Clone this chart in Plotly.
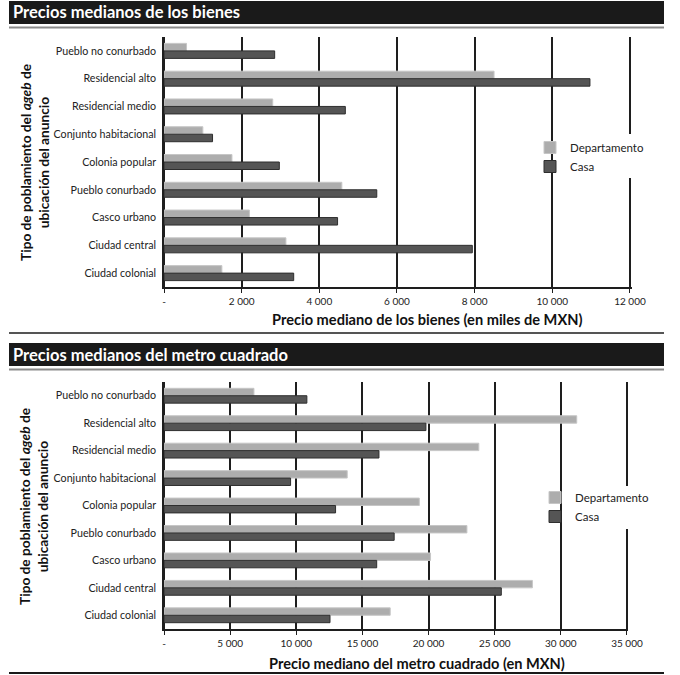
import plotly.graph_objects as go

categories = ["Pueblo no conurbado", "Residencial alto", "Residencial medio",
              "Conjunto habitacional", "Colonia popular", "Pueblo conurbado",
              "Casco urbano", "Ciudad central", "Ciudad colonial"]
series_names = ["Departamento", "Casa"]

bienes_departamento = [580, 8500, 2800, 1000, 1750, 4580, 2200, 3140, 1490]
bienes_casa = [2850, 10970, 4670, 1250, 2970, 5480, 4470, 7940, 3340]

m2_departamento = [6800, 31200, 23800, 13850, 19300, 22900, 20150, 27850, 17100]
m2_casa = [10800, 19800, 16250, 9570, 12970, 17400, 16080, 25500, 12550]

bienes_tickvals = [0, 2000, 4000, 6000, 8000, 10000, 12000]
bienes_ticktext = ["-", "2 000", "4 000", "6 000", "8 000", "10 000", "12 000"]
m2_tickvals = [0, 5000, 10000, 15000, 20000, 25000, 30000, 35000]
m2_ticktext = ["-", "5 000", "10 000", "15 000", "20 000", "25 000", "30 000", "35 000"]

title_top = "Precios medianos de los bienes"
title_bottom = "Precios medianos del metro cuadrado"
xtitle_top = "Precio mediano de los bienes (en miles de MXN)"
xtitle_bottom = "Precio mediano del metro cuadrado (en MXN)"
ytitle = "Tipo de poblamiento del <i>ageb</i> de<br>ubicación del anuncio"

W, H = 680, 675
FONT = "Lato, 'Open Sans', sans-serif"
DEP_COLOR, DEP_LINE = "#adadad", "#c6c6c6"
CASA_COLOR, CASA_LINE = "#555555", "#2e2e2e"


def px(x):
    return x / W


def py(y):
    return 1 - y / H


fig = go.Figure()
fig.add_trace(go.Bar(name=series_names[0], y=categories, x=bienes_departamento, orientation="h",
                     marker=dict(color=DEP_COLOR, line=dict(color=DEP_LINE, width=1)),
                     xaxis="x", yaxis="y", legend="legend"))
fig.add_trace(go.Bar(name=series_names[1], y=categories, x=bienes_casa, orientation="h",
                     marker=dict(color=CASA_COLOR, line=dict(color=CASA_LINE, width=1)),
                     xaxis="x", yaxis="y", legend="legend"))
fig.add_trace(go.Bar(name=series_names[0], y=categories, x=m2_departamento, orientation="h",
                     marker=dict(color=DEP_COLOR, line=dict(color=DEP_LINE, width=1)),
                     xaxis="x2", yaxis="y2", legend="legend2"))
fig.add_trace(go.Bar(name=series_names[1], y=categories, x=m2_casa, orientation="h",
                     marker=dict(color=CASA_COLOR, line=dict(color=CASA_LINE, width=1)),
                     xaxis="x2", yaxis="y2", legend="legend2"))

xcommon = dict(showgrid=True, gridcolor="#1e1e1e", gridwidth=1.5,
               zeroline=True, zerolinecolor="#1e1e1e", zerolinewidth=1.5,
               showline=True, linecolor="#1e1e1e", linewidth=1.5,
               ticks="outside", ticklen=4, tickcolor="#1e1e1e", tickwidth=1.2,
               tickfont=dict(size=10, color="#222", family=FONT), fixedrange=True,
               automargin=False)
ycommon = dict(categoryorder="array", categoryarray=categories, autorange="reversed",
               showgrid=False, showline=True, linecolor="#1e1e1e", linewidth=1.5,
               ticks="", ticklabelstandoff=4,
               tickfont=dict(size=10.7, color="#222", family=FONT), fixedrange=True,
               automargin=False)

fig.update_layout(
    width=W, height=H, margin=dict(l=0, r=0, t=0, b=0, autoexpand=False),
    paper_bgcolor="white", plot_bgcolor="white",
    font=dict(family=FONT, color="#222"),
    barmode="group", bargap=0.46, bargroupgap=0,
    xaxis=dict(domain=[px(164), px(631.5)], range=[0, 12040], anchor="y",
               tickvals=bienes_tickvals, ticktext=bienes_ticktext, **xcommon),
    yaxis=dict(domain=[py(287), py(37)], anchor="x", **ycommon),
    xaxis2=dict(domain=[px(164), px(628.3)], range=[0, 35100], anchor="y2",
                tickvals=m2_tickvals, ticktext=m2_ticktext, **xcommon),
    yaxis2=dict(domain=[py(629), py(382)], anchor="x2", **ycommon),
    legend=dict(x=px(530), y=py(133), xanchor="left", yanchor="top",
                bgcolor="rgba(0,0,0,0)", font=dict(size=11.5, color="#222", family=FONT),
                tracegroupgap=0, itemwidth=30),
    legend2=dict(x=px(535), y=py(483), xanchor="left", yanchor="top",
                 bgcolor="rgba(0,0,0,0)", font=dict(size=11.5, color="#222", family=FONT),
                 tracegroupgap=0, itemwidth=30),
)

shapes = [
    # header bands
    dict(type="rect", xref="paper", yref="paper", x0=px(9), x1=px(664), y0=py(24), y1=py(1),
         fillcolor="#1a1a1a", line=dict(width=0)),
    dict(type="rect", xref="paper", yref="paper", x0=px(9), x1=px(664), y0=py(366), y1=py(343),
         fillcolor="#1a1a1a", line=dict(width=0)),
    # rules
    dict(type="line", xref="paper", yref="paper", x0=px(9), x1=px(664), y0=py(27.5), y1=py(27.5),
         line=dict(color="#8a8a8a", width=2)),
    dict(type="line", xref="paper", yref="paper", x0=px(9), x1=px(664), y0=py(333), y1=py(333),
         line=dict(color="#555555", width=2)),
    dict(type="line", xref="paper", yref="paper", x0=px(9), x1=px(664), y0=py(369.5), y1=py(369.5),
         line=dict(color="#8a8a8a", width=2)),
    dict(type="line", xref="paper", yref="paper", x0=px(9), x1=px(664), y0=py(673), y1=py(673),
         line=dict(color="#1a1a1a", width=2)),
    # gaps in last gridline behind legends
    dict(type="rect", xref="paper", yref="paper", x0=px(622), x1=px(640), y0=py(178), y1=py(134),
         fillcolor="white", line=dict(width=0), layer="above"),
    dict(type="rect", xref="paper", yref="paper", x0=px(619), x1=px(637), y0=py(529), y1=py(486),
         fillcolor="white", line=dict(width=0), layer="above"),
]
fig.update_layout(shapes=shapes)

annotations = [
    dict(text=title_top, x=px(11), y=py(12.5), xref="paper", yref="paper", xanchor="left",
         yanchor="middle", showarrow=False, font=dict(size=16.5, color="white", family=FONT, weight="bold")),
    dict(text=title_bottom, x=px(11), y=py(354.5), xref="paper", yref="paper", xanchor="left",
         yanchor="middle", showarrow=False, font=dict(size=16.5, color="white", family=FONT, weight="bold")),
    dict(text=xtitle_top, x=px(427), y=py(319), xref="paper", yref="paper", xanchor="center",
         yanchor="middle", showarrow=False, font=dict(size=14.6, color="#111", family=FONT, weight="bold")),
    dict(text=xtitle_bottom, x=px(417), y=py(663), xref="paper", yref="paper", xanchor="center",
         yanchor="middle", showarrow=False, font=dict(size=14.6, color="#111", family=FONT, weight="bold")),
    dict(text=ytitle, x=px(34), y=py(163), xref="paper", yref="paper", xanchor="center",
         yanchor="middle", textangle=-90, showarrow=False,
         font=dict(size=13.7, color="#111", family=FONT, weight="bold")),
    dict(text=ytitle, x=px(34), y=py(507), xref="paper", yref="paper", xanchor="center",
         yanchor="middle", textangle=-90, showarrow=False,
         font=dict(size=13.7, color="#111", family=FONT, weight="bold")),
]
fig.update_layout(annotations=annotations)

fig.write_html("out.html", config={"displayModeBar": False},
               post_script="document.body.style.margin='0';document.body.style.overflow='hidden';")
